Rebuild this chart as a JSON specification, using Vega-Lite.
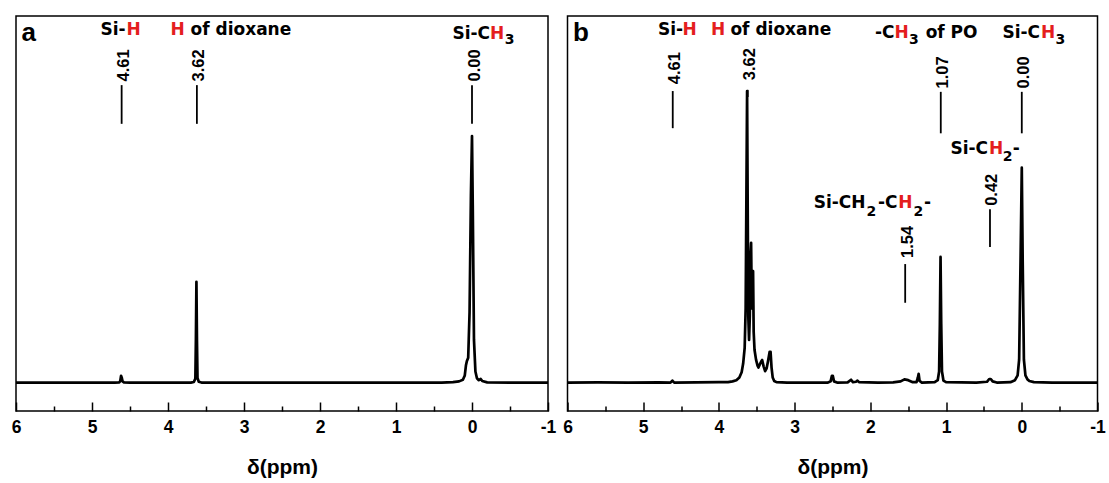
{
  "$schema": "https://vega.github.io/schema/vega-lite/v6.json",
  "padding": {"left": 10, "top": 15, "right": 0, "bottom": 0},
  "autosize": {"type": "pad"},
  "spacing": 19.5,
  "bounds": "flush",
  "config": {
    "view": {"stroke": "#000000", "strokeWidth": 1.5},
    "axisX": {
      "values": [6, 5.5, 5, 4.5, 4, 3.5, 3, 2.5, 2, 1.5, 1, 0.5, 0, -0.5, -1],
      "labelExpr": "datum.value % 1 === 0 ? '' + datum.value : ''",
      "tickSize": {"condition": {"test": "datum.value % 1 === 0", "value": -9}, "value": -5},
      "tickWidth": 1.5,
      "tickColor": "#000000",
      "domain": false,
      "grid": false,
      "labelFont": "Liberation Sans",
      "labelFontWeight": "bold",
      "labelFontSize": 17.5,
      "labelColor": "#000000",
      "labelPadding": 16,
      "labelOverlap": false,
      "labelFlush": false,
      "labelBound": false,
      "titleFont": "Liberation Sans",
      "titleFontWeight": "bold",
      "titleFontSize": 21,
      "titleColor": "#000000",
      "titlePadding": 17
    }
  },
  "datasets": {
    "specA": [
      {"ppm": 6, "I": 7.2}, {"ppm": 5.5, "I": 7.2}, {"ppm": 5, "I": 7.2}, {"ppm": 4.7, "I": 7.2},
      {"ppm": 4.64, "I": 7.25}, {"ppm": 4.628, "I": 7.6}, {"ppm": 4.618, "I": 8.9}, {"ppm": 4.608, "I": 8.4},
      {"ppm": 4.598, "I": 7.5}, {"ppm": 4.58, "I": 7.25}, {"ppm": 4.5, "I": 7.2}, {"ppm": 4, "I": 7.2},
      {"ppm": 3.7, "I": 7.2}, {"ppm": 3.66, "I": 7.35}, {"ppm": 3.64, "I": 8.2}, {"ppm": 3.633, "I": 18},
      {"ppm": 3.626, "I": 32.7}, {"ppm": 3.619, "I": 18}, {"ppm": 3.612, "I": 8.4}, {"ppm": 3.595, "I": 7.4},
      {"ppm": 3.56, "I": 7.2}, {"ppm": 3, "I": 7.2}, {"ppm": 2, "I": 7.2}, {"ppm": 1, "I": 7.2},
      {"ppm": 0.4, "I": 7.2}, {"ppm": 0.25, "I": 7.3}, {"ppm": 0.17, "I": 7.5}, {"ppm": 0.12, "I": 7.9},
      {"ppm": 0.095, "I": 9}, {"ppm": 0.08, "I": 11.5}, {"ppm": 0.068, "I": 12.6}, {"ppm": 0.05, "I": 13.5},
      {"ppm": 0.032, "I": 25}, {"ppm": 0.014, "I": 55}, {"ppm": 0.0, "I": 69.6}, {"ppm": -0.01, "I": 52},
      {"ppm": -0.026, "I": 18}, {"ppm": -0.045, "I": 10}, {"ppm": -0.065, "I": 8.3}, {"ppm": -0.09, "I": 7.8},
      {"ppm": -0.115, "I": 8.1}, {"ppm": -0.135, "I": 7.6}, {"ppm": -0.2, "I": 7.25}, {"ppm": -0.5, "I": 7.2},
      {"ppm": -1, "I": 7.2}
    ],
    "specB": [
      {"ppm": 6, "I": 7.2}, {"ppm": 5.6, "I": 7.25}, {"ppm": 5.2, "I": 7.2}, {"ppm": 4.8, "I": 7.25},
      {"ppm": 4.64, "I": 7.2}, {"ppm": 4.615, "I": 7.7}, {"ppm": 4.59, "I": 7.2}, {"ppm": 4.3, "I": 7.25},
      {"ppm": 4.0, "I": 7.3}, {"ppm": 3.88, "I": 7.3}, {"ppm": 3.82, "I": 7.5}, {"ppm": 3.77, "I": 7.8},
      {"ppm": 3.73, "I": 8.5}, {"ppm": 3.7, "I": 9.8}, {"ppm": 3.68, "I": 12}, {"ppm": 3.66, "I": 16},
      {"ppm": 3.647, "I": 26}, {"ppm": 3.637, "I": 55}, {"ppm": 3.628, "I": 81}, {"ppm": 3.621, "I": 55},
      {"ppm": 3.612, "I": 24}, {"ppm": 3.602, "I": 18}, {"ppm": 3.592, "I": 24}, {"ppm": 3.582, "I": 40},
      {"ppm": 3.575, "I": 42.6}, {"ppm": 3.566, "I": 26}, {"ppm": 3.558, "I": 27}, {"ppm": 3.549, "I": 35.4},
      {"ppm": 3.541, "I": 20}, {"ppm": 3.53, "I": 15.5}, {"ppm": 3.51, "I": 13}, {"ppm": 3.49, "I": 11.5},
      {"ppm": 3.478, "I": 11}, {"ppm": 3.46, "I": 11.8}, {"ppm": 3.44, "I": 12.6}, {"ppm": 3.429, "I": 12.9},
      {"ppm": 3.41, "I": 11.3}, {"ppm": 3.39, "I": 10.1}, {"ppm": 3.37, "I": 10.8}, {"ppm": 3.35, "I": 12.8},
      {"ppm": 3.33, "I": 15}, {"ppm": 3.318, "I": 15}, {"ppm": 3.305, "I": 11}, {"ppm": 3.29, "I": 8.5},
      {"ppm": 3.27, "I": 7.6}, {"ppm": 3.24, "I": 7.3}, {"ppm": 3.1, "I": 7.2}, {"ppm": 2.8, "I": 7.2},
      {"ppm": 2.56, "I": 7.2}, {"ppm": 2.525, "I": 7.5}, {"ppm": 2.508, "I": 8.9}, {"ppm": 2.496, "I": 8.9},
      {"ppm": 2.48, "I": 7.5}, {"ppm": 2.44, "I": 7.2}, {"ppm": 2.3, "I": 7.25}, {"ppm": 2.255, "I": 7.9},
      {"ppm": 2.23, "I": 7.3}, {"ppm": 2.19, "I": 7.4}, {"ppm": 2.17, "I": 7.7}, {"ppm": 2.15, "I": 7.3},
      {"ppm": 1.9, "I": 7.2}, {"ppm": 1.7, "I": 7.25}, {"ppm": 1.6, "I": 7.5}, {"ppm": 1.55, "I": 8.0},
      {"ppm": 1.5, "I": 7.8}, {"ppm": 1.44, "I": 7.3}, {"ppm": 1.39, "I": 7.3}, {"ppm": 1.372, "I": 8.5},
      {"ppm": 1.362, "I": 9.4}, {"ppm": 1.35, "I": 7.6}, {"ppm": 1.32, "I": 7.2}, {"ppm": 1.15, "I": 7.3},
      {"ppm": 1.11, "I": 7.8}, {"ppm": 1.092, "I": 10}, {"ppm": 1.082, "I": 22}, {"ppm": 1.073, "I": 39},
      {"ppm": 1.064, "I": 22}, {"ppm": 1.054, "I": 10}, {"ppm": 1.035, "I": 7.7}, {"ppm": 1.0, "I": 7.3},
      {"ppm": 0.6, "I": 7.2}, {"ppm": 0.46, "I": 7.4}, {"ppm": 0.43, "I": 8.1}, {"ppm": 0.41, "I": 8.1},
      {"ppm": 0.385, "I": 7.5}, {"ppm": 0.33, "I": 7.2}, {"ppm": 0.15, "I": 7.3}, {"ppm": 0.09, "I": 7.8},
      {"ppm": 0.055, "I": 9}, {"ppm": 0.035, "I": 13}, {"ppm": 0.015, "I": 40}, {"ppm": 0.0, "I": 61.6},
      {"ppm": -0.012, "I": 38}, {"ppm": -0.028, "I": 13}, {"ppm": -0.048, "I": 9}, {"ppm": -0.075, "I": 8},
      {"ppm": -0.1, "I": 7.6}, {"ppm": -0.16, "I": 7.3}, {"ppm": -0.4, "I": 7.2}, {"ppm": -1, "I": 7.2}
    ],
    "rulesA": [
      {"ppm": 4.61, "I": 72.7, "I2": 82.5},
      {"ppm": 3.62, "I": 72.7, "I2": 82.5},
      {"ppm": 0.0, "I": 72.7, "I2": 82.5}
    ],
    "rulesB": [
      {"ppm": 4.61, "I": 71.6, "I2": 81},
      {"ppm": 3.62, "I": 79.5, "I2": 81.3},
      {"ppm": 1.07, "I": 70.3, "I2": 80.8},
      {"ppm": 0.0, "I": 70.3, "I2": 80.8},
      {"ppm": 1.54, "I": 27.4, "I2": 37.2},
      {"ppm": 0.42, "I": 41.5, "I2": 51.1}
    ],
    "numsA": [
      {"ppm": 4.61, "I": 87.5, "t": "4.61"},
      {"ppm": 3.62, "I": 87.5, "t": "3.62"},
      {"ppm": 0.0, "I": 87.5, "t": "0.00"}
    ],
    "numsB": [
      {"ppm": 4.61, "I": 86.8, "t": "4.61"},
      {"ppm": 3.62, "I": 87.8, "t": "3.62"},
      {"ppm": 1.07, "I": 85.7, "t": "1.07"},
      {"ppm": 0.0, "I": 85.7, "t": "0.00"},
      {"ppm": 1.54, "I": 42.8, "t": "1.54"},
      {"ppm": 0.42, "I": 56, "t": "0.42"}
    ],
    "labA": [
      {"ppm": 4.888, "I": 95.2, "t": "Si-", "col": "k", "role": "main"},
      {"ppm": 4.546, "I": 95.2, "t": "H", "col": "r", "role": "main"},
      {"ppm": 3.967, "I": 95.2, "t": "H", "col": "r", "role": "main"},
      {"ppm": 3.704, "I": 95.2, "t": "of dioxane", "col": "k", "role": "main"},
      {"ppm": 0.257, "I": 94.3, "t": "Si-C", "col": "k", "role": "main"},
      {"ppm": -0.237, "I": 94.3, "t": "H", "col": "r", "role": "main"},
      {"ppm": -0.43, "I": 92.8, "t": "3", "col": "k", "role": "sub"}
    ],
    "labB": [
      {"ppm": 4.806, "I": 95.2, "t": "Si-", "col": "k", "role": "main"},
      {"ppm": 4.482, "I": 95.2, "t": "H", "col": "r", "role": "main"},
      {"ppm": 4.106, "I": 95.2, "t": "H", "col": "r", "role": "main"},
      {"ppm": 3.848, "I": 95.2, "t": "of dioxane", "col": "k", "role": "main"},
      {"ppm": 1.94, "I": 94.4, "t": "-C", "col": "k", "role": "main"},
      {"ppm": 1.682, "I": 94.4, "t": "H", "col": "r", "role": "main"},
      {"ppm": 1.49, "I": 92.9, "t": "3", "col": "k", "role": "sub"},
      {"ppm": 1.27, "I": 94.4, "t": "of PO", "col": "k", "role": "main"},
      {"ppm": 0.255, "I": 94.4, "t": "Si-C", "col": "k", "role": "main"},
      {"ppm": -0.254, "I": 94.4, "t": "H", "col": "r", "role": "main"},
      {"ppm": -0.445, "I": 92.9, "t": "3", "col": "k", "role": "sub"},
      {"ppm": 2.748, "I": 51.5, "t": "Si-CH", "col": "k", "role": "main"},
      {"ppm": 2.05, "I": 49.4, "t": "2", "col": "k", "role": "sub"},
      {"ppm": 1.9, "I": 51.5, "t": "-C", "col": "k", "role": "main"},
      {"ppm": 1.63, "I": 51.5, "t": "H", "col": "r", "role": "main"},
      {"ppm": 1.43, "I": 49.4, "t": "2", "col": "k", "role": "sub"},
      {"ppm": 1.29, "I": 51.5, "t": "-", "col": "k", "role": "main"},
      {"ppm": 0.942, "I": 65.0, "t": "Si-C", "col": "k", "role": "main"},
      {"ppm": 0.433, "I": 65.0, "t": "H", "col": "r", "role": "main"},
      {"ppm": 0.25, "I": 63.3, "t": "2", "col": "k", "role": "sub"},
      {"ppm": 0.12, "I": 65.0, "t": "-", "col": "k", "role": "main"}
    ],
    "letterA": [{"ppm": 5.928, "I": 93.7, "t": "a"}],
    "letterB": [{"ppm": 5.926, "I": 93.7, "t": "b"}]
  },
  "hconcat": [
    {
      "width": 532,
      "height": 395,
      "encoding": {
        "x": {"field": "ppm", "type": "quantitative", "title": "δ(ppm)", "scale": {"domain": [-1, 6], "reverse": true, "nice": false, "zero": false}},
        "y": {"field": "I", "type": "quantitative", "scale": {"domain": [0, 100], "nice": false, "zero": false}, "axis": null}
      },
      "layer": [
        {"data": {"name": "specA"}, "mark": {"type": "line", "color": "#000000", "strokeWidth": 2.7, "strokeJoin": "round"}},
        {"data": {"name": "rulesA"}, "mark": {"type": "rule", "color": "#000000", "strokeWidth": 1.8}, "encoding": {"y2": {"field": "I2"}}},
        {"data": {"name": "numsA"}, "mark": {"type": "text", "angle": 270, "font": "Liberation Sans", "fontWeight": "bold", "fontSize": 16.5, "align": "center", "baseline": "middle", "dy": 2.5, "color": "#000000"}, "encoding": {"text": {"field": "t"}}},
        {"data": {"name": "labA"}, "mark": {"type": "text", "align": "left", "baseline": "alphabetic", "font": "DejaVu Sans", "fontWeight": "bold"},
          "encoding": {"text": {"field": "t"},
            "color": {"field": "col", "type": "nominal", "scale": {"domain": ["k", "r"], "range": ["#000000", "#e41e1e"]}, "legend": null},
            "size": {"field": "role", "type": "nominal", "scale": {"domain": ["main", "sub"], "range": [17, 14]}, "legend": null}}},
        {"data": {"name": "letterA"}, "mark": {"type": "text", "align": "left", "baseline": "alphabetic", "font": "Liberation Sans", "fontWeight": "bold", "fontSize": 26, "color": "#000000"}, "encoding": {"text": {"field": "t"}}}
      ]
    },
    {
      "width": 530,
      "height": 395,
      "encoding": {
        "x": {"field": "ppm", "type": "quantitative", "title": "δ(ppm)", "scale": {"domain": [-1, 6], "reverse": true, "nice": false, "zero": false}},
        "y": {"field": "I", "type": "quantitative", "scale": {"domain": [0, 100], "nice": false, "zero": false}, "axis": null}
      },
      "layer": [
        {"data": {"name": "specB"}, "mark": {"type": "line", "color": "#000000", "strokeWidth": 2.7, "strokeJoin": "round"}},
        {"data": {"name": "rulesB"}, "mark": {"type": "rule", "color": "#000000", "strokeWidth": 1.8}, "encoding": {"y2": {"field": "I2"}}},
        {"data": {"name": "numsB"}, "mark": {"type": "text", "angle": 270, "font": "Liberation Sans", "fontWeight": "bold", "fontSize": 16.5, "align": "center", "baseline": "middle", "dy": 2.5, "color": "#000000"}, "encoding": {"text": {"field": "t"}}},
        {"data": {"name": "labB"}, "mark": {"type": "text", "align": "left", "baseline": "alphabetic", "font": "DejaVu Sans", "fontWeight": "bold"},
          "encoding": {"text": {"field": "t"},
            "color": {"field": "col", "type": "nominal", "scale": {"domain": ["k", "r"], "range": ["#000000", "#e41e1e"]}, "legend": null},
            "size": {"field": "role", "type": "nominal", "scale": {"domain": ["main", "sub"], "range": [17, 14]}, "legend": null}}},
        {"data": {"name": "letterB"}, "mark": {"type": "text", "align": "left", "baseline": "alphabetic", "font": "Liberation Sans", "fontWeight": "bold", "fontSize": 26, "color": "#000000"}, "encoding": {"text": {"field": "t"}}}
      ]
    }
  ]
}
